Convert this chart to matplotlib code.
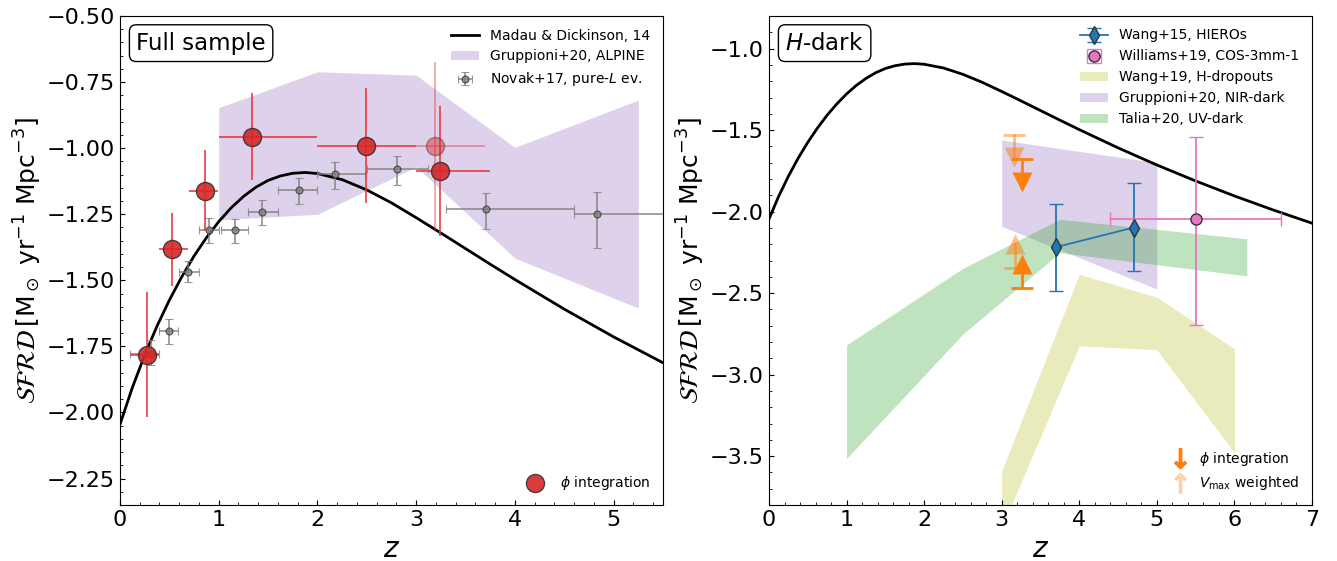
import matplotlib.pyplot as plt
import numpy as np
from matplotlib.lines import Line2D
from matplotlib.patches import Patch
from matplotlib.ticker import MultipleLocator

# Madau & Dickinson (2014) cosmic SFRD, log10 [Msun/yr/Mpc^3]
MD_Z = [0.0, 0.125, 0.25, 0.375, 0.5, 0.625, 0.75, 0.875, 1.0, 1.125, 1.25,
        1.375, 1.5, 1.625, 1.75, 1.875, 2.0, 2.25, 2.5, 2.75, 3.0, 3.25, 3.5,
        3.75, 4.0, 4.5, 5.0, 5.5, 6.0, 6.5, 7.0]
MD_LOGSFRD = [-2.045, -1.906, -1.783, -1.673, -1.575, -1.487, -1.408, -1.339,
              -1.278, -1.226, -1.183, -1.148, -1.122, -1.105, -1.095, -1.092,
              -1.096, -1.119, -1.158, -1.207, -1.263, -1.321, -1.380, -1.439,
              -1.497, -1.609, -1.714, -1.812, -1.904, -1.990, -2.071]

# ---- Full sample panel ----
# phi-integrated SFRD
PHI_Z = [0.27, 0.53, 0.86, 1.34, 2.49, 3.24]
PHI_Z_LO = [0.10, 0.40, 0.70, 1.00, 2.00, 3.00]
PHI_Z_HI = [0.39, 0.69, 0.99, 2.00, 3.00, 3.75]
PHI_SFRD = [-1.781, -1.381, -1.162, -0.957, -0.992, -1.085]
PHI_SFRD_LO = [-2.017, -1.520, -1.315, -1.120, -1.208, -1.332]
PHI_SFRD_HI = [-1.544, -1.245, -1.007, -0.793, -0.774, -0.841]

# highest-z bin, less constrained
PHI_FAINT_Z = [3.19]
PHI_FAINT_Z_LO = [3.00]
PHI_FAINT_Z_HI = [3.70]
PHI_FAINT_SFRD = [-0.992]
PHI_FAINT_SFRD_LO = [-1.310]
PHI_FAINT_SFRD_HI = [-0.674]

# Novak+17, pure luminosity evolution
NOVAK_Z = [0.31, 0.50, 0.69, 0.90, 1.16, 1.44, 1.81, 2.18, 2.81, 3.71, 4.83]
NOVAK_Z_LO = [0.10, 0.40, 0.60, 0.80, 1.02, 1.30, 1.60, 2.00, 2.50, 3.30, 4.60]
NOVAK_Z_HI = [0.39, 0.59, 0.80, 1.00, 1.30, 1.60, 2.00, 2.49, 3.12, 4.60, 5.70]
NOVAK_SFRD = [-1.777, -1.692, -1.469, -1.309, -1.309, -1.240, -1.159, -1.099,
              -1.080, -1.230, -1.250]
NOVAK_SFRD_LO = [-1.822, -1.740, -1.508, -1.357, -1.357, -1.290, -1.211,
                 -1.156, -1.139, -1.307, -1.378]
NOVAK_SFRD_HI = [-1.727, -1.648, -1.426, -1.265, -1.268, -1.196, -1.114,
                 -1.054, -1.028, -1.168, -1.166]

# Gruppioni+20, ALPINE
ALPINE_Z = [1.0, 2.0, 3.0, 4.0, 5.25]
ALPINE_HI = [-0.847, -0.711, -0.724, -0.997, -0.818]
ALPINE_LO = [-1.271, -1.250, -1.070, -1.416, -1.605]

# ---- H-dark panel ----
WANG15_Z = [3.70, 4.70]
WANG15_SFRD = [-2.218, -2.098]
WANG15_SFRD_LO = [-2.490, -2.362]
WANG15_SFRD_HI = [-1.953, -1.827]

WILL19_Z = [5.50]
WILL19_Z_LO = [4.40]
WILL19_Z_HI = [6.60]
WILL19_SFRD = [-2.045]
WILL19_SFRD_LO = [-2.695]
WILL19_SFRD_HI = [-1.545]

WANG19_Z = [3.0, 4.0, 5.0, 6.0]
WANG19_HI = [-3.590, -2.385, -2.525, -2.842]
WANG19_LO = [-3.940, -2.823, -2.848, -3.479]

NIRDARK_Z = [3.0, 5.0]
NIRDARK_HI = [-1.561, -1.700]
NIRDARK_LO = [-2.090, -2.475]

TALIA_Z = [1.0, 2.5, 3.75, 6.16]
TALIA_HI = [-2.818, -2.348, -2.047, -2.167]
TALIA_LO = [-3.514, -2.751, -2.252, -2.394]

# H-dark limits: (z, value, arrow length) for phi integration and Vmax weighting
UPLIM_PHI = (3.26, -1.680, 0.14)
UPLIM_VMAX = (3.16, -1.530, 0.135)
LOLIM_PHI = (3.26, -2.467, 0.147)
LOLIM_VMAX = (3.17, -2.348, 0.148)

C_RED = "#d62728"
C_PURPLE = "#9467bd"
C_GREEN = "#2ca02c"
C_OLIVE = "#bcbd22"
C_BLUE = "#1f77b4"
C_PINK = "#e377c2"
C_ORANGE = "#ff7f0e"

YLABEL = r"$\mathcal{SFRD}\,[\mathrm{M_\odot\ yr^{-1}\ Mpc^{-3}}]$"


def asym(v, lo, hi):
    v, lo, hi = np.asarray(v), np.asarray(lo), np.asarray(hi)
    return np.vstack([v - lo, hi - v])


def style_axes(ax, ymajor, yminor):
    ax.xaxis.set_major_locator(MultipleLocator(1))
    ax.xaxis.set_minor_locator(MultipleLocator(0.2))
    ax.yaxis.set_major_locator(MultipleLocator(ymajor))
    ax.yaxis.set_minor_locator(MultipleLocator(yminor))
    ax.tick_params(which="both", direction="in", labelsize=16)
    ax.set_xlabel(r"$z$", fontsize=20)
    ax.set_ylabel(YLABEL, fontsize=18, labelpad=2)


def draw_limit(ax, lim, up, alpha):
    z, val, length = lim
    head = val + length if up else val - length
    ax.plot([z, z], [val, head], color=C_ORANGE, lw=2, alpha=alpha, zorder=5)
    ax.plot(z, val, marker="_", ms=16, mew=2, color=C_ORANGE, alpha=alpha, zorder=5)
    ax.plot(z, head, marker="^" if up else "v", ms=15, color=C_ORANGE,
            mec="none", alpha=alpha, zorder=5)


fig = plt.figure(figsize=(13.37, 5.61), dpi=100)
ax1 = fig.add_axes([120 / 1337, 56 / 561, 543 / 1337, 489 / 561])
ax2 = fig.add_axes([769 / 1337, 56 / 561, 543 / 1337, 489 / 561])

# ---------------- left: full sample ----------------
md1, = ax1.plot(MD_Z, MD_LOGSFRD, color="black", lw=2, zorder=3)
ax1.fill_between(ALPINE_Z, ALPINE_LO, ALPINE_HI, color=C_PURPLE, alpha=0.3,
                 lw=0, zorder=1)
nov = ax1.errorbar(NOVAK_Z, NOVAK_SFRD,
                   xerr=asym(NOVAK_Z, NOVAK_Z_LO, NOVAK_Z_HI),
                   yerr=asym(NOVAK_SFRD, NOVAK_SFRD_LO, NOVAK_SFRD_HI),
                   fmt="o", ms=5, mfc="gray", mec="#333333", mew=0.8,
                   ecolor="gray", elinewidth=1.3, capsize=3, alpha=0.8, zorder=4)

ax1.errorbar(PHI_Z, PHI_SFRD,
             xerr=asym(PHI_Z, PHI_Z_LO, PHI_Z_HI),
             yerr=asym(PHI_SFRD, PHI_SFRD_LO, PHI_SFRD_HI),
             fmt="none", ecolor="#e8383d", elinewidth=1.3, alpha=0.9, zorder=5)
phi_pts, = ax1.plot(PHI_Z, PHI_SFRD, "o", ms=13, mfc=C_RED, mec="#333333",
                    mew=1, alpha=0.9, zorder=6)
ax1.errorbar(PHI_FAINT_Z, PHI_FAINT_SFRD,
             xerr=asym(PHI_FAINT_Z, PHI_FAINT_Z_LO, PHI_FAINT_Z_HI),
             yerr=asym(PHI_FAINT_SFRD, PHI_FAINT_SFRD_LO, PHI_FAINT_SFRD_HI),
             fmt="o", ms=13, mfc=C_RED, mec="#333333", mew=1,
             ecolor="#e8383d", elinewidth=1.3, alpha=0.45, zorder=5)

ax1.set_xlim(0, 5.5)
ax1.set_ylim(-2.35, -0.5)
style_axes(ax1, 0.25, 0.05)

ax1.text(0.03, 0.968, "Full sample", transform=ax1.transAxes, fontsize=16.5,
         ha="left", va="top",
         bbox=dict(boxstyle="round,pad=0.3", fc="white", ec="black"))

leg1 = ax1.legend(
    [md1, Patch(color=C_PURPLE, alpha=0.3, lw=0), nov],
    ["Madau & Dickinson, 14", "Gruppioni+20, ALPINE", r"Novak+17, pure-$L$ ev."],
    loc="upper right", fontsize=10, frameon=False)
ax1.add_artist(leg1)
ax1.legend([phi_pts], [r"$\phi$ integration"], loc="lower right", fontsize=10,
           frameon=False)

# ---------------- right: H-dark ----------------
ax2.plot(MD_Z, MD_LOGSFRD, color="black", lw=2, zorder=3)
ax2.fill_between(WANG19_Z, WANG19_LO, WANG19_HI, color=C_OLIVE, alpha=0.3,
                 lw=0, zorder=1)
ax2.fill_between(NIRDARK_Z, NIRDARK_LO, NIRDARK_HI, color=C_PURPLE, alpha=0.3,
                 lw=0, zorder=1)
ax2.fill_between(TALIA_Z, TALIA_LO, TALIA_HI, color=C_GREEN, alpha=0.3,
                 lw=0, zorder=1)

w15 = ax2.errorbar(WANG15_Z, WANG15_SFRD,
                   yerr=asym(WANG15_SFRD, WANG15_SFRD_LO, WANG15_SFRD_HI),
                   fmt="d-", color=C_BLUE, ms=9, mec="#333333", mew=1,
                   lw=1.3, elinewidth=1.3, capsize=5, zorder=4)
w19 = ax2.errorbar(WILL19_Z, WILL19_SFRD,
                   xerr=asym(WILL19_Z, WILL19_Z_LO, WILL19_Z_HI),
                   yerr=asym(WILL19_SFRD, WILL19_SFRD_LO, WILL19_SFRD_HI),
                   fmt="o", color=C_PINK, ms=8, mec="#333333", mew=1,
                   elinewidth=1.3, capsize=5, zorder=4)

draw_limit(ax2, UPLIM_VMAX, up=False, alpha=0.5)
draw_limit(ax2, UPLIM_PHI, up=False, alpha=1.0)
draw_limit(ax2, LOLIM_VMAX, up=True, alpha=0.5)
draw_limit(ax2, LOLIM_PHI, up=True, alpha=1.0)

ax2.set_xlim(0, 7)
ax2.set_ylim(-3.8, -0.8)
style_axes(ax2, 0.5, 0.1)

ax2.text(0.03, 0.968, r"$H$-dark", transform=ax2.transAxes, fontsize=16.5,
         ha="left", va="top",
         bbox=dict(boxstyle="round,pad=0.3", fc="white", ec="black"))

leg2 = ax2.legend(
    [w15, w19, Patch(color=C_OLIVE, alpha=0.3, lw=0),
     Patch(color=C_PURPLE, alpha=0.3, lw=0), Patch(color=C_GREEN, alpha=0.3, lw=0)],
    ["Wang+15, HIEROs", "Williams+19, COS-3mm-1", "Wang+19, H-dropouts",
     "Gruppioni+20, NIR-dark", "Talia+20, UV-dark"],
    loc="upper right", fontsize=10, frameon=False)
ax2.add_artist(leg2)
arrow_phi = Line2D([], [], ls="none", marker=r"$\downarrow$", ms=14,
                   color=C_ORANGE, mew=1.2)
arrow_vmax = Line2D([], [], ls="none", marker=r"$\uparrow$", ms=14,
                    color=C_ORANGE, mew=1.2, alpha=0.25)
ax2.legend([arrow_phi, arrow_vmax],
           [r"$\phi$ integration", r"$V_{\rm max}$ weighted"],
           loc="lower right", fontsize=10, frameon=False, handlelength=1.2)

fig.savefig("out.png", dpi=100)
